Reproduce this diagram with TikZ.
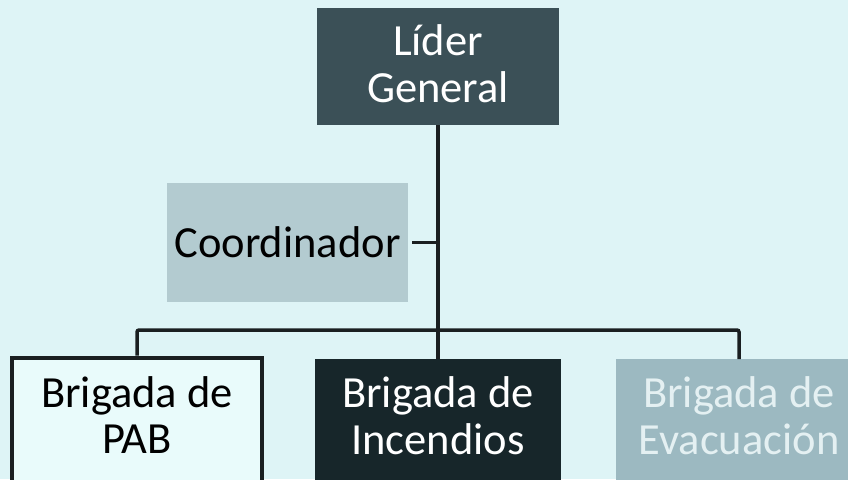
\documentclass[tikz,border=0pt]{standalone}
\usepackage{fontspec}
\setmainfont{Carlito}
\begin{document}
\begin{tikzpicture}[x=1pt,y=-1pt]
\definecolor{bgc}{HTML}{DEF4F6}
\definecolor{topc}{HTML}{3B5057}
\definecolor{coordc}{HTML}{B3CBD0}
\definecolor{pabc}{HTML}{E9FBFB}
\definecolor{incc}{HTML}{17262A}
\definecolor{evac}{HTML}{9CB9C1}
\definecolor{evat}{HTML}{E4F0F2}
\definecolor{linec}{HTML}{1A1F21}
\tikzset{
  boxtxt/.style={font=\fontsize{44.5}{46.5}\selectfont, align=center, inner sep=0pt},
  conn/.style={draw=linec, line width=3.5pt}
}
\useasboundingbox (0,0) rectangle (848,479);
\clip (0,0) rectangle (848,479);
\fill[bgc] (0,0) rectangle (848,479);
\node[boxtxt, fill=topc, text=white, minimum width=242pt, minimum height=117pt, text depth=6pt] (lider) at (438,66.5) {Líder\\General};
\node[boxtxt, fill=coordc, text=black, minimum width=241pt, minimum height=119pt] (coord) at (287.5,242.5) {Coordinador};
\node[boxtxt, fill=pabc, draw=linec, line width=4pt, text=black, minimum width=250pt, minimum height=135pt, anchor=north, text depth=20pt] (pab) at (137,355.5) {Brigada de\\PAB};
\node[boxtxt, fill=incc, text=white, minimum width=246pt, minimum height=131pt, anchor=north, text depth=18pt] (inc) at (438,359) {Brigada de\\Incendios};
\node[boxtxt, fill=evac, text=evat, minimum width=246pt, minimum height=131pt, anchor=north, text depth=18pt] (eva) at (739,359) {Brigada de\\Evacuación};
\coordinate (bar) at (438,330);
\draw[conn] (lider.south) -- (inc.north);
\draw[conn, shorten <=4pt] (coord.east) -- (coord.east -| lider.south);
\draw[conn, rounded corners=2pt] (pab.north) |- (bar) -| (eva.north);
\end{tikzpicture}
\end{document}
